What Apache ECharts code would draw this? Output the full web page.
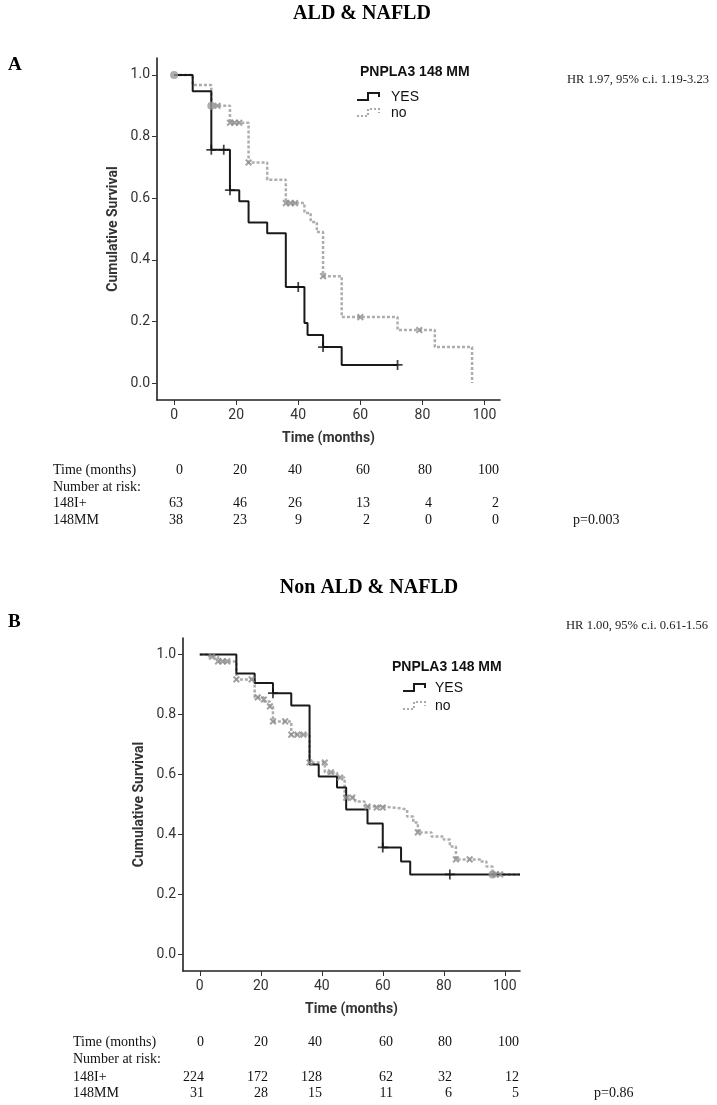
<!DOCTYPE html>
<html><head><meta charset="utf-8">
<script src="https://cdn.jsdelivr.net/npm/echarts@6/dist/echarts.min.js"></script>
<style>html,body{margin:0;padding:0;background:#fff}#c{width:717px;height:1105px}</style>
</head><body><div id="c"></div>
<script>
// ---------- data ----------
const timeTicks = [0, 20, 40, 60, 80, 100];
const survTicks = [0.0, 0.2, 0.4, 0.6, 0.8, 1.0];

// Panel A (ALD & NAFLD): Kaplan-Meier steps [month, survival]
const A_yes = [[0,1],[6,0.947],[12,0.757],[18,0.626],[21,0.59],[24,0.521],[30,0.486],[36,0.312],[42,0.195],[43,0.156],[48,0.117],[54,0.059],[72,0.059]];
const A_no = [[0,1],[6,0.967],[12,0.9],[18,0.845],[24,0.716],[30,0.66],[36,0.584],[42,0.552],[44,0.523],[46,0.49],[48,0.347],[54,0.214],[72,0.172],[84,0.117],[96,0.0]];
const A_yesCensored = [[12,0.757],[16,0.757],[18,0.626],[40,0.312],[48,0.117],[72,0.059]];
const A_noCensored = [[14,0.9],[18,0.845],[19.5,0.845],[21,0.845],[24,0.716],[36,0.584],[37.5,0.584],[39,0.584],[48,0.347],[60,0.214],[79,0.172]];
const A_noCircles = [[0,1],[12,0.9]];

// Panel B (Non ALD & NAFLD)
const B_yes = [[0,1],[12,0.937],[18,0.905],[24,0.871],[30,0.83],[36,0.633],[39,0.593],[45,0.557],[48,0.483],[55,0.437],[60,0.357],[66,0.31],[69,0.267],[105,0.267]];
const B_no = [[0,1],[3,0.993],[6,0.977],[12,0.917],[18,0.857],[21,0.843],[23,0.827],[24,0.777],[30,0.733],[36,0.64],[41,0.607],[45,0.59],[47.5,0.523],[51,0.51],[54,0.493],[60,0.487],[66,0.483],[68,0.46],[70,0.44],[71.5,0.407],[76,0.393],[80,0.383],[82,0.36],[84,0.317],[92,0.31],[94,0.293],[96,0.267],[105,0.267]];
const B_yesCensored = [[24,0.871],[60,0.357],[82,0.267]];
const B_noCensored = [[4,0.993],[6,0.977],[7.5,0.977],[9,0.977],[12,0.917],[17,0.917],[19,0.857],[21,0.85],[23,0.827],[24,0.777],[28,0.777],[30,0.733],[32,0.733],[34,0.733],[36,0.64],[41,0.64],[43,0.607],[46,0.59],[48,0.523],[50,0.523],[55,0.493],[58,0.49],[60,0.49],[71.5,0.407],[84,0.317],[88.5,0.317],[97,0.267],[98.5,0.267]];
const B_noCircles = [[96,0.267]];

// Number at risk tables
const riskTimes = [0, 20, 40, 60, 80, 100];
const A_risk148Iplus = [63, 46, 26, 13, 4, 2];
const A_risk148MM = [38, 23, 9, 2, 0, 0];
const B_risk148Iplus = [224, 172, 128, 62, 32, 12];
const B_risk148MM = [31, 28, 15, 11, 6, 5];

const titles = ['ALD & NAFLD', 'Non ALD & NAFLD'];
const panelLetters = ['A', 'B'];
const hrTexts = ['HR 1.97, 95% c.i. 1.19-3.23', 'HR 1.00, 95% c.i. 0.61-1.56'];
const pTexts = ['p=0.003', 'p=0.86'];
const legendTitle = 'PNPLA3 148 MM';
const legendNames = ['YES', 'no'];
const rowLabels = ['Time (months)', 'Number at risk:', '148I+', '148MM'];

// ---------- layout ----------
const L = [
  { grid:{left:157, top:58, width:343, height:342}, titleX:362, titleY:14, letterX:8, letterY:65,
    hrX:567, hrY:80, legX:360, legY:72, symX:357, textX:391, yesY:97, noY:113,
    tabX:53, rows:[470,487,503,520], cols:[183,247,302,370,432,499], pX:573 },
  { grid:{left:183, top:638, width:337, height:333}, titleX:369, titleY:588, letterX:8, letterY:622,
    hrX:566, hrY:626, legX:392, legY:667, symX:403, textX:435, yesY:688, noY:706,
    tabX:73, rows:[1042,1059,1077,1093], cols:[204,268,322,393,452,519], pX:594 }
];

const SANS = 'Roboto, "Noto Sans", sans-serif';
const SERIF = '"Liberation Serif", "Times New Roman", serif';
const plusPath = 'path://M-0.7,-4H0.7V4H-0.7Z M-4,-0.7H4V0.7H-4Z';
const xPath = 'path://M-1,-4H1V4H-1Z M-4,-1H4V1H-4Z';

const chart = echarts.init(document.getElementById('c'), null, {renderer:'canvas'});

const grids = [], xAxes = [], yAxes = [], series = [], graphic = [];
const panels = [
  {yes:A_yes, no:A_no, yc:A_yesCensored, nc:A_noCensored, ncirc:A_noCircles, r1:A_risk148Iplus, r2:A_risk148MM},
  {yes:B_yes, no:B_no, yc:B_yesCensored, nc:B_noCensored, ncirc:B_noCircles, r1:B_risk148Iplus, r2:B_risk148MM}
];

panels.forEach((p, i) => {
  const lay = L[i];
  grids.push(Object.assign({containLabel:false}, lay.grid));
  xAxes.push({
    type:'value', gridIndex:i, min:-5.5, max:105,
    axisLine:{show:true, onZero:false, lineStyle:{color:'#222', width:1.6}},
    axisTick:{show:true, length:5, customValues:timeTicks, lineStyle:{color:'#333', width:1}},
    axisLabel:{customValues:timeTicks, color:'#333', fontFamily:SANS, fontSize:14, margin:8},
    splitLine:{show:false},
    name:'Time (months)', nameLocation:'middle', nameGap:31,
    nameTextStyle:{fontFamily:SANS, fontWeight:'bold', fontSize:14, color:'#333'}
  });
  yAxes.push({
    type:'value', gridIndex:i, min:-0.055, max:1.055,
    axisLine:{show:true, onZero:false, lineStyle:{color:'#222', width:1.6}},
    axisTick:{show:true, length:5, customValues:survTicks, lineStyle:{color:'#333', width:1}},
    axisLabel:{customValues:survTicks, color:'#333', fontFamily:SANS, fontSize:14, margin:7,
      formatter:v => Number(v).toFixed(1)},
    splitLine:{show:false},
    name:'Cumulative Survival', nameLocation:'middle', nameGap:37, nameRotate:90,
    nameTextStyle:{fontFamily:SANS, fontWeight:'bold', fontSize:14, color:'#333'}
  });
  series.push(
    {type:'line', xAxisIndex:i, yAxisIndex:i, step:'end', data:p.no, showSymbol:false, z:2,
      lineStyle:{color:'#adadad', width:2.5, type:[3,2]}},
    {type:'line', xAxisIndex:i, yAxisIndex:i, step:'end', data:p.yes, showSymbol:false, z:3,
      lineStyle:{color:'#1a1a1a', width:2}},
    {type:'scatter', xAxisIndex:i, yAxisIndex:i, data:p.ncirc, symbol:'circle', symbolSize:8, z:4,
      itemStyle:{color:'#9a9a9a'}},
    {type:'scatter', xAxisIndex:i, yAxisIndex:i, data:p.nc, symbol:xPath, symbolRotate:45, symbolSize:8, z:4,
      itemStyle:{color:'#8c8c8c'}},
    {type:'scatter', xAxisIndex:i, yAxisIndex:i, data:p.yc, symbol:plusPath, symbolSize:10, z:5,
      itemStyle:{color:'#111'}}
  );

  const txt = (x, y, text, font, align, fill) => graphic.push({type:'text', x, y, z:10,
    style:{text, font, fill:fill || '#111', textAlign:align || 'left', textVerticalAlign:'middle'}});

  txt(lay.titleX, lay.titleY, titles[i], 'bold 20px ' + SERIF, 'center', '#000');
  txt(lay.letterX, lay.letterY, panelLetters[i], 'bold 19px ' + SERIF, 'left', '#000');
  txt(lay.hrX, lay.hrY, hrTexts[i], '12.6px ' + SERIF, 'left', '#222');
  // legend
  txt(lay.legX, lay.legY, legendTitle, 'bold 14px "Liberation Sans", Arial, sans-serif', 'left', '#111');
  txt(lay.textX, lay.yesY, legendNames[0], '14px "Liberation Sans", Arial, sans-serif', 'left', '#111');
  txt(lay.textX, lay.noY, legendNames[1], '14px "Liberation Sans", Arial, sans-serif', 'left', '#111');
  const sx = lay.symX;
  graphic.push({type:'polyline', z:10, shape:{points:[[sx,lay.yesY+3],[sx+11,lay.yesY+3],[sx+11,lay.yesY-4],[sx+22,lay.yesY-4],[sx+22,lay.yesY]]},
    style:{stroke:'#1a1a1a', lineWidth:2, fill:null}});
  graphic.push({type:'polyline', z:10, shape:{points:[[sx,lay.noY+3],[sx+11,lay.noY+3],[sx+11,lay.noY-4],[sx+22,lay.noY-4],[sx+22,lay.noY]]},
    style:{stroke:'#aaa', lineWidth:2, lineDash:[2,2], fill:null}});
  // risk table
  const tf = '14px ' + SERIF;
  rowLabels.forEach((lab, r) => txt(lay.tabX, lay.rows[r], lab, tf, 'left', '#111'));
  riskTimes.forEach((t, c) => txt(lay.cols[c], lay.rows[0], String(t), tf, 'right', '#111'));
  p.r1.forEach((v, c) => txt(lay.cols[c], lay.rows[2], String(v), tf, 'right', '#111'));
  p.r2.forEach((v, c) => txt(lay.cols[c], lay.rows[3], String(v), tf, 'right', '#111'));
  txt(lay.pX, lay.rows[3], pTexts[i], tf, 'left', '#111');
});

chart.setOption({
  animation:false,
  backgroundColor:'#fff',
  grid:grids, xAxis:xAxes, yAxis:yAxes, series, graphic
});
</script>
</body></html>
